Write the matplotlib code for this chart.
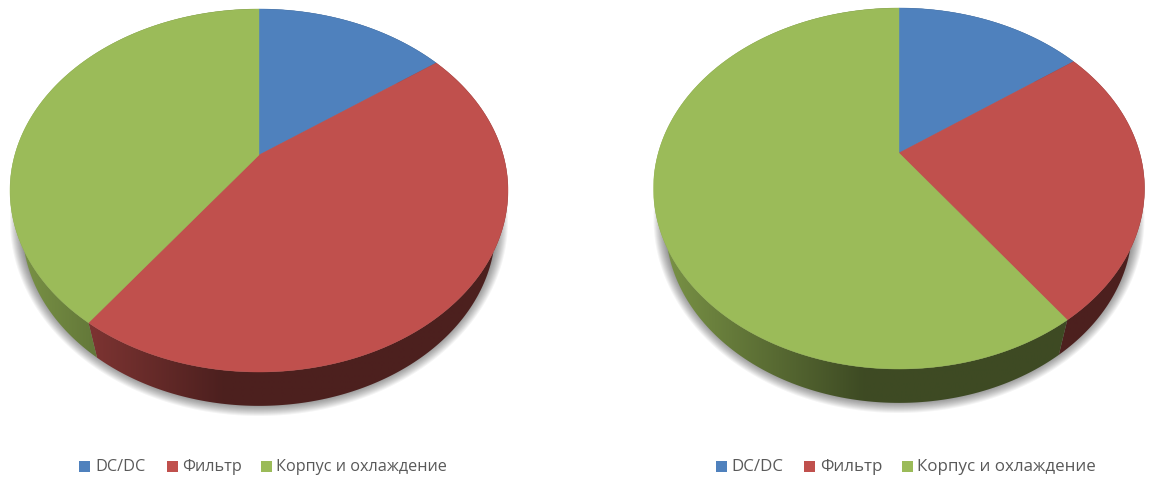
import numpy as np
import matplotlib
matplotlib.use("Agg")
import matplotlib.pyplot as plt
from matplotlib.colors import to_rgb
from matplotlib.patches import Rectangle, Polygon

plt.rcParams['font.family'] = ['Open Sans', 'DejaVu Sans']

categories = ['DC/DC', 'Фильтр', 'Корпус и охлаждение']
colors = ['#4f81bd', '#c0504d', '#9bbb59']
left_values = [15, 45, 40]
right_values = [15, 25, 60]


def project(theta, pie):
    # perspective view of the unit disc, theta runs clockwise from 12 o'clock
    cx, apex, rx, top, bottom = pie
    up = apex - top
    down = bottom - apex
    k = (down - up) / (down + up)
    a = rx * np.sqrt(1 - k ** 2)
    b = up * (1 + k)
    u, v = np.sin(theta), np.cos(theta)
    w = 1 + k * v
    return cx + a * u / w, apex - b * v / w


def lower_rim(x, y, pie):
    # the underside sits further away, so it comes out a little smaller
    cx, _, _, top, bottom = pie
    mid_y = (top + bottom) / 2
    return cx + (x - cx) * 0.95, mid_y + 37.5 + (y - mid_y) * 0.98


def draw_pie(ax, values, pie):
    total = sum(values)
    edges = 2 * np.pi * np.cumsum([0] + list(values)) / total
    cx, _, rx, top, bottom = pie
    mid_y = (top + bottom) / 2
    ry = (bottom - top) / 2

    # soft shadow under the rim
    th = np.linspace(0, 2 * np.pi, 361)
    for grow in np.arange(0, 12):
        sx = cx + (rx - grow) * np.sin(th)
        sy = mid_y + 30 + (ry + 14 - grow) * np.cos(th)
        ax.add_patch(Polygon(np.c_[sx, sy], closed=True, fc='#000000', ec='none',
                             alpha=0.045, zorder=1))

    # rim of each slice, shaded from left to right
    xs = np.linspace(0, 1, 256)
    shade = 0.80 - 0.40 * np.clip(xs / 0.425, 0, 1)
    for i, val in enumerate(values):
        t = np.linspace(edges[i], edges[i + 1], 200)
        x, y = project(t, pie)
        lx, ly = lower_rim(x, y, pie)
        ring = Polygon(np.r_[np.c_[x, y], np.c_[lx, ly][::-1]], closed=True,
                       transform=ax.transData, fc='none', ec='none')
        ax.add_patch(ring)
        strip = np.array(to_rgb(colors[i])) * shade[:, None]
        im = ax.imshow(strip[None, :, :], extent=(cx - rx, cx + rx, bottom + 40, top),
                       aspect='auto', interpolation='bilinear', zorder=2)
        im.set_clip_path(ring)

    # flat top
    for i, val in enumerate(values):
        t = np.linspace(edges[i], edges[i + 1], 200)
        x, y = project(t, pie)
        pts = np.r_[[[pie[0], pie[1]]], np.c_[x, y]]
        ax.add_patch(Polygon(pts, closed=True, fc=colors[i], ec=colors[i],
                             lw=0.3, zorder=3))


def draw_legend(ax, swatch_x, text_x, fontsize, y=466):
    for i, name in enumerate(categories):
        ax.add_patch(Rectangle((swatch_x[i], y - 5), 10.5, 10.5, fc=colors[i], ec='none'))
        ax.text(text_x[i], y + 1, name, fontsize=fontsize, color='#595959',
                ha='left', va='center')


fig = plt.figure(figsize=(11.52, 4.79), dpi=100)
ax = fig.add_axes([0, 0, 1, 1])

draw_pie(ax, left_values, (259, 155, 249, 9, 372))
draw_pie(ax, right_values, (899, 153, 245.5, 8, 369))

draw_legend(ax, [79, 167, 261], [95, 182, 276], 11.7)
draw_legend(ax, [716, 804, 902], [731, 820, 917], 12.2)

ax.set_xlim(0, 1152)
ax.set_ylim(479, 0)
ax.axis('off')

fig.savefig('out.png', dpi=100)
